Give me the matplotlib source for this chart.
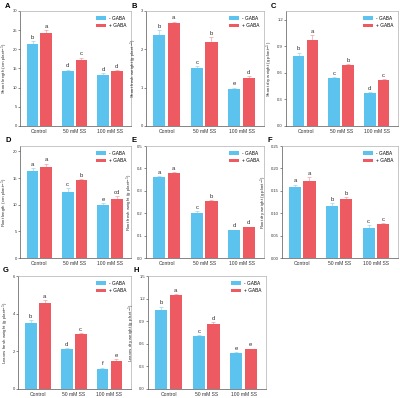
import numpy as np
import matplotlib
matplotlib.use('Agg')
import matplotlib.pyplot as plt

GROUPS = ['Control', '50 mM SS', '100 mM SS']
BLUE = '#5BC3EE'
RED = '#EE5A61'

shoot_len_minus = [21.5, 14.3, 13.3]
shoot_len_plus = [24.2, 17.2, 14.3]
shoot_len_err_minus = [0.7, 0.4, 0.4]
shoot_len_err_plus = [0.8, 0.6, 0.3]

shoot_fw_minus = [2.38, 1.52, 0.97]
shoot_fw_plus = [2.68, 2.20, 1.25]
shoot_fw_err_minus = [0.12, 0.04, 0.03]
shoot_fw_err_plus = [0.04, 0.12, 0.05]

shoot_dw_minus = [0.79, 0.54, 0.37]
shoot_dw_plus = [0.97, 0.69, 0.52]
shoot_dw_err_minus = [0.04, 0.01, 0.01]
shoot_dw_err_plus = [0.06, 0.01, 0.01]

root_len_minus = [16.4, 12.3, 10.0]
root_len_plus = [17.0, 14.6, 11.1]
root_len_err_minus = [0.5, 0.8, 0.3]
root_len_err_plus = [0.7, 0.2, 0.5]

root_fw_minus = [0.362, 0.201, 0.125]
root_fw_plus = [0.381, 0.256, 0.137]
root_fw_err_minus = [0.003, 0.008, 0.002]
root_fw_err_plus = [0.003, 0.003, 0.003]

root_dw_minus = [0.159, 0.116, 0.068]
root_dw_plus = [0.172, 0.132, 0.075]
root_dw_err_minus = [0.005, 0.007, 0.005]
root_dw_err_plus = [0.008, 0.004, 0.003]

leaf_fw_minus = [3.52, 2.13, 1.08]
leaf_fw_plus = [4.57, 2.91, 1.50]
leaf_fw_err_minus = [0.15, 0.05, 0.05]
leaf_fw_err_plus = [0.15, 0.05, 0.07]

leaf_dw_minus = [1.055, 0.705, 0.475]
leaf_dw_plus = [1.245, 0.865, 0.527]
leaf_dw_err_minus = [0.04, 0.01, 0.01]
leaf_dw_err_plus = [0.015, 0.025, 0.01]

# letter, y label, ymax, ticks, tick format, -GABA, +GABA, errors, significance letters
PANELS = [
    ('A', 'Shoot length (cm plant$^{-1}$)', 30, [0, 5, 10, 15, 20, 25, 30], '%d',
     shoot_len_minus, shoot_len_plus, shoot_len_err_minus, shoot_len_err_plus,
     ['b', 'd', 'd'], ['a', 'c', 'd']),
    ('B', 'Shoot fresh weight (g plant$^{-1}$)', 3, [0, 1, 2, 3], '%d',
     shoot_fw_minus, shoot_fw_plus, shoot_fw_err_minus, shoot_fw_err_plus,
     ['b', 'c', 'e'], ['a', 'b', 'd']),
    ('C', 'Shoot dry weight (g plant$^{-1}$)', 1.3, [0, 0.3, 0.6, 0.9, 1.2], '%.1f',
     shoot_dw_minus, shoot_dw_plus, shoot_dw_err_minus, shoot_dw_err_plus,
     ['b', 'c', 'd'], ['a', 'b', 'c']),
    ('D', 'Root length (cm plant$^{-1}$)', 21, [0, 5, 10, 15, 20], '%d',
     root_len_minus, root_len_plus, root_len_err_minus, root_len_err_plus,
     ['a', 'c', 'e'], ['a', 'b', 'cd']),
    ('E', 'Root fresh weight (g plant$^{-1}$)', 0.5, [0, 0.1, 0.2, 0.3, 0.4, 0.5], '%.1f',
     root_fw_minus, root_fw_plus, root_fw_err_minus, root_fw_err_plus,
     ['a', 'c', 'd'], ['a', 'b', 'd']),
    ('F', 'Root dry weight (g plant$^{-1}$)', 0.25, [0, 0.05, 0.1, 0.15, 0.2, 0.25], '%.2f',
     root_dw_minus, root_dw_plus, root_dw_err_minus, root_dw_err_plus,
     ['a', 'b', 'c'], ['a', 'b', 'c']),
    ('G', 'Leaves fresh weight (g plant$^{-1}$)', 6, [0, 2, 4, 6], '%d',
     leaf_fw_minus, leaf_fw_plus, leaf_fw_err_minus, leaf_fw_err_plus,
     ['b', 'd', 'f'], ['a', 'c', 'e']),
    ('H', 'Leaves dry weight (g plant$^{-1}$)', 1.5, [0, 0.3, 0.6, 0.9, 1.2, 1.5], '%.1f',
     leaf_dw_minus, leaf_dw_plus, leaf_dw_err_minus, leaf_dw_err_plus,
     ['b', 'c', 'e'], ['a', 'd', 'e']),
]

# axes boxes in pixels: left, top, right, bottom
W, H = 400, 398
BOXES = [
    (20, 11, 131, 126), (146, 11, 264, 126), (286, 11, 398, 126),
    (20, 146, 131, 258), (146, 146, 264, 258), (282, 146, 398, 258),
    (18, 276, 131, 389), (148, 276, 266, 389),
]

plt.rcParams['font.family'] = 'Liberation Sans'
fig = plt.figure(figsize=(W / 100, H / 100), dpi=100)

BW = 0.33
GAP = 0.03
x = np.arange(len(GROUPS))

for (letter, ylabel, ymax, ticks, fmt, m, p, em, ep, lm, lp), (l, t, r, b) in zip(PANELS, BOXES):
    ax = fig.add_axes([l / W, 1 - b / H, (r - l) / W, (b - t) / H])
    xm = x - BW / 2 - GAP
    xp = x + BW / 2 + GAP
    ax.bar(xm, m, BW, color=BLUE, label='- GABA', zorder=2)
    ax.bar(xp, p, BW, color=RED, label='+ GABA', zorder=2)
    ax.errorbar(xm, m, yerr=[np.zeros(3), em], fmt='none', ecolor='#9ad8f3',
                elinewidth=0.5, capsize=1.5, capthick=0.5, zorder=1)
    ax.errorbar(xp, p, yerr=[np.zeros(3), ep], fmt='none', ecolor='#f4a0a3',
                elinewidth=0.5, capsize=1.5, capthick=0.5, zorder=1)
    for xi, v, e, s in zip(xm, m, em, lm):
        ax.text(xi, v + e + ymax * 0.012, s, ha='center', va='bottom', fontsize=4.3, color='#333333')
    for xi, v, e, s in zip(xp, p, ep, lp):
        ax.text(xi, v + e + ymax * 0.012, s, ha='center', va='bottom', fontsize=4.3, color='#333333')
    ax.set_xlim(-0.55, 2.6)
    ax.set_ylim(0, ymax)
    ax.set_yticks(ticks)
    ax.set_yticklabels([fmt % tk for tk in ticks])
    ax.set_xticks(x)
    ax.set_xticklabels(GROUPS)
    ax.tick_params(axis='y', labelsize=3.0, length=1.2, width=0.4, pad=1, colors='#333333')
    ax.tick_params(axis='x', labelsize=3.6, length=0, pad=2, colors='#333333')
    for sp in ax.spines.values():
        sp.set_linewidth(0.5)
        sp.set_color('#b0b0b0')
    ax.spines['left'].set_color('#555555')
    ax.spines['bottom'].set_color('#555555')
    ax.set_ylabel(ylabel, fontsize=3.2, labelpad=1.5, color='#333333')
    ax.legend(loc='upper right', frameon=False, fontsize=3.4, handlelength=2.2,
              handleheight=0.8, borderaxespad=0.6, labelspacing=0.5, handletextpad=0.6)
    fig.text(max(l - 15, 2) / W, 1 - (t - 5) / H, letter, fontsize=5.5, fontweight='bold',
             ha='left', va='center')

fig.savefig('out.png', dpi=100)
